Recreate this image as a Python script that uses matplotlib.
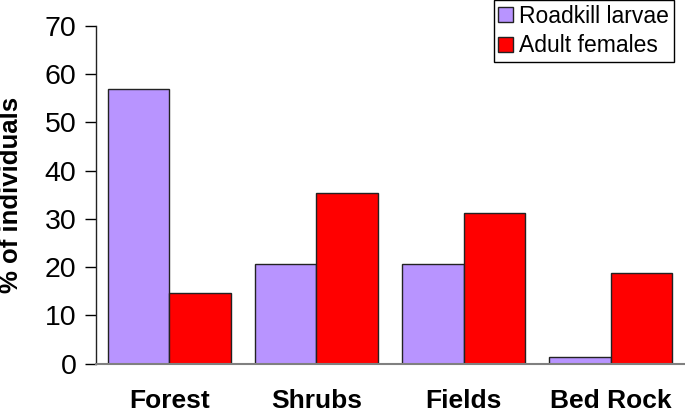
import matplotlib
matplotlib.use("Agg")
import matplotlib.pyplot as plt
import numpy as np

categories = ["Forest", "Shrubs", "Fields", "Bed Rock"]
larvae = [57.0, 20.7, 20.7, 1.4]
adults = [14.6, 35.3, 31.2, 18.7]
series_names = ["Roadkill larvae", "Adult females"]

plt.rcParams['font.family'] = ['Liberation Sans', 'DejaVu Sans']

fig = plt.figure(figsize=(6.85, 4.11), dpi=100)
ax = fig.add_axes([95.7/685, 47.5/411, 1 - 95.7/685, (363.5-26)/411])

x = np.arange(len(categories))
w = 0.417
ax.bar(x - w/2, larvae, width=w, color="#B894FF", edgecolor="#222222", linewidth=1.0, label=series_names[0])
ax.bar(x + w/2, adults, width=w, color="#FF0000", edgecolor="#222222", linewidth=1.0, label=series_names[1])

ax.set_xlim(-0.5, 3.505)
ax.set_ylim(0, 70)
ax.set_yticks(range(0, 71, 10))
ax.tick_params(axis='y', labelsize=20.5, length=8, width=1, direction='out', pad=6)
ax.set_xticks(x)
ax.set_xticklabels(categories, fontsize=19, fontweight='bold')
ax.tick_params(axis='x', length=0, pad=18)
for s in ['top', 'right']:
    ax.spines[s].set_visible(False)
ax.spines['bottom'].set_color('#808080')
ax.spines['bottom'].set_linewidth(1.5)
ax.spines['left'].set_color('#222222')
ax.spines['left'].set_linewidth(1)

fig.text(11/685, 1 - 195/411, "% of individuals", rotation=90, fontsize=18.5,
         fontweight='bold', ha='center', va='center')

leg = fig.legend(loc='upper right', bbox_to_anchor=(673.5/685, 1.0), fontsize=16.5,
                 frameon=True, fancybox=False, edgecolor='black', framealpha=1,
                 handlelength=0.65, handleheight=0.65, handletextpad=0.25,
                 labelspacing=0.3, borderpad=0.2, borderaxespad=0)
leg.get_frame().set_linewidth(1)

fig.savefig("out.png", dpi=100)
